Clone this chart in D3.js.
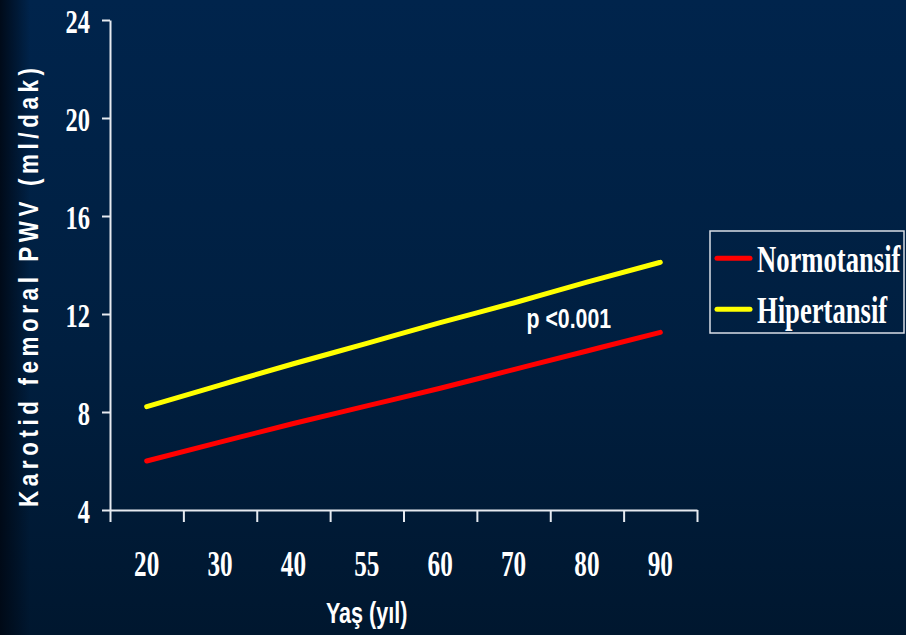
<!DOCTYPE html>
<html>
<head>
<meta charset="utf-8">
<script src="https://cdn.jsdelivr.net/npm/d3@7"></script>
<style>
  html, body { margin: 0; padding: 0; background: #001b3a; }
  svg { display: block; }
</style>
</head>
<body>
<svg id="chart" width="906" height="635"></svg>
<script>
// Age groups on the x axis and carotid-femoral PWV for each group
const ages = ["20", "30", "40", "55", "60", "70", "80", "90"];
const normotansif = [6.0, 6.77, 7.53, 8.25, 8.97, 9.73, 10.49, 11.25];
const hipertansif = [8.22, 9.1, 9.97, 10.8, 11.65, 12.45, 13.3, 14.11];
const yTicks = [4, 8, 12, 16, 20, 24];
const seriesNames = ["Normotansif", "Hipertansif"];
const seriesColors = ["#ff0000", "#ffff00"];
const pLabel = "p <0.001";
const xTitle = "Yaş (yıl)";
const yTitle = "Karotid femoral PWV (ml/dak)";

const W = 906, H = 635;
const SERIF = "'Liberation Serif', 'Times New Roman', serif";
const SANS = "'Liberation Sans', Arial, sans-serif";
const SX = 0.72;           // narrow lettering used throughout
const AXIS = "#e6eaf0";

const svg = d3.select("#chart");

// background: navy, slightly lighter at the top, dark band along the left edge
const defs = svg.append("defs");
const bg = defs.append("linearGradient").attr("id", "bg")
  .attr("x1", 0).attr("y1", 0).attr("x2", 0).attr("y2", 1);
bg.append("stop").attr("offset", "0%").attr("stop-color", "#00244c");
bg.append("stop").attr("offset", "55%").attr("stop-color", "#001f40");
bg.append("stop").attr("offset", "100%").attr("stop-color", "#00172f");
const edge = defs.append("linearGradient").attr("id", "edge")
  .attr("x1", 0).attr("y1", 0).attr("x2", 1).attr("y2", 0);
edge.append("stop").attr("offset", "0%").attr("stop-color", "#000814").attr("stop-opacity", 0.9);
edge.append("stop").attr("offset", "100%").attr("stop-color", "#000814").attr("stop-opacity", 0);

svg.append("rect").attr("width", W).attr("height", H).attr("fill", "url(#bg)");
svg.append("rect").attr("width", 30).attr("height", H).attr("fill", "url(#edge)");

// scales
const x = d3.scaleBand().domain(ages).range([110, 697]).padding(0);
const xEdge = d3.scaleLinear().domain([0, ages.length]).range(x.range());
const y = d3.scaleLinear().domain([4, 24]).range([510, 20]);

// narrow text helper: anchored at (px, py), squeezed horizontally
function label(parent, px, py, str, o) {
  const g = parent.append("g").attr("transform", `translate(${px},${py})`);
  return g.append("text")
    .attr("transform", `scale(${o.sx || SX},1)`)
    .attr("text-anchor", o.anchor || "start")
    .attr("fill", o.fill || "#ffffff")
    .style("font-family", o.family)
    .style("font-weight", "bold")
    .style("font-size", o.size + "px")
    .text(str);
}

// y axis
const gy = svg.append("g").attr("transform", "translate(110,0)")
  .call(d3.axisLeft(y).tickValues(yTicks).tickSize(8).tickSizeOuter(0).tickFormat(d3.format("d")));
gy.attr("font-family", null).attr("font-size", null);
gy.select(".domain").attr("stroke", AXIS).attr("stroke-width", 2);
gy.selectAll(".tick line").attr("stroke", AXIS).attr("stroke-width", 2);
gy.selectAll(".tick text")
  .attr("fill", "#ffffff")
  .attr("x", -20 / SX)
  .attr("dy", "0.38em")
  .attr("transform", `scale(${SX},1)`)
  .style("font-family", SERIF).style("font-weight", "bold").style("font-size", "34px");

// x axis: tick marks on the group boundaries
const gxTicks = svg.append("g").attr("transform", "translate(0,510)")
  .call(d3.axisBottom(xEdge).tickValues(d3.range(ages.length + 1)).tickSize(12).tickSizeOuter(0).tickFormat(""));
gxTicks.select(".domain").attr("stroke", AXIS).attr("stroke-width", 2);
gxTicks.selectAll(".tick line").attr("stroke", AXIS).attr("stroke-width", 2);

// x axis: age labels centred in each group
const gxLabels = svg.append("g").attr("transform", "translate(0,510)")
  .call(d3.axisBottom(x).tickSize(0).tickSizeOuter(0));
gxLabels.attr("font-family", null).attr("font-size", null);
gxLabels.select(".domain").remove();
gxLabels.selectAll(".tick text")
  .attr("fill", "#ffffff")
  .attr("y", 66).attr("dy", 0)
  .attr("transform", `scale(${SX},1)`)
  .style("font-family", SERIF).style("font-weight", "bold").style("font-size", "35px");

// series lines
const line = d3.line()
  .x((d, i) => x(ages[i]) + x.bandwidth() / 2)
  .y(d => y(d))
  .curve(d3.curveMonotoneX);

[normotansif, hipertansif].forEach((vals, k) => {
  svg.append("path")
    .datum(vals)
    .attr("d", line)
    .attr("fill", "none")
    .attr("stroke", seriesColors[k])
    .attr("stroke-width", 5)
    .attr("stroke-linecap", "round")
    .attr("stroke-linejoin", "round");
});

// significance note
label(svg, 526.5, 328.3, pLabel, { family: SANS, size: 28, sx: 0.76 });

// axis titles
label(svg, 366.7, 623.3, xTitle, { family: SANS, size: 30, anchor: "middle" });

// vertical title: narrow glyphs, widely letter-spaced
const TSX = 0.8;
svg.append("g").attr("transform", "translate(37.5,507) rotate(-90)")
  .append("text")
  .attr("transform", `scale(${TSX},1)`)
  .attr("fill", "#ffffff")
  .attr("text-anchor", "start")
  .attr("textLength", 439 / TSX)
  .attr("lengthAdjust", "spacing")
  .style("font-family", SANS).style("font-weight", "bold").style("font-size", "28px")
  .text(yTitle);

// legend
const lg = svg.append("g");
lg.append("rect")
  .attr("x", 710).attr("y", 231).attr("width", 194).attr("height", 102)
  .attr("fill", "none").attr("stroke", "#d9dee6").attr("stroke-width", 1.5);
const legendRows = [258.3, 309.3];
seriesNames.forEach((name, k) => {
  lg.append("line")
    .attr("x1", 717).attr("x2", 750)
    .attr("y1", legendRows[k]).attr("y2", legendRows[k])
    .attr("stroke", seriesColors[k]).attr("stroke-width", 5).attr("stroke-linecap", "round");
  label(lg, 757, legendRows[k] + 13.2, name, { family: SERIF, size: 37 });
});
</script>
</body>
</html>
